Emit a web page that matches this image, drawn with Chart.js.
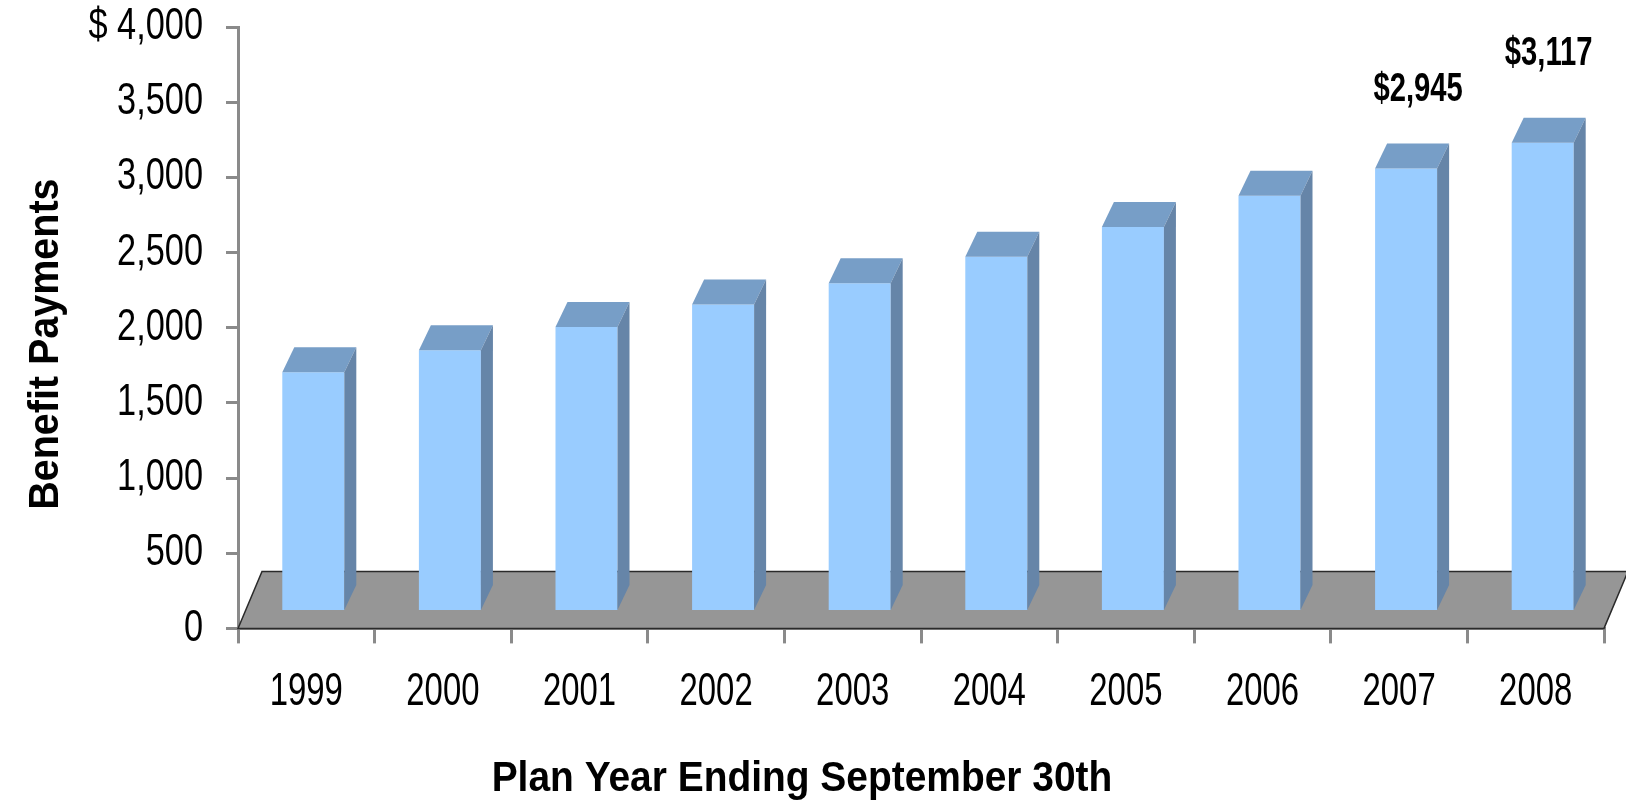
<!DOCTYPE html>
<html>
<head>
<meta charset="utf-8">
<script src="https://cdn.jsdelivr.net/npm/chart.js@4.4.1/dist/chart.umd.min.js"></script>
<style>
html,body{margin:0;padding:0;background:#fff;}
#wrap{width:1626px;height:805px;}
</style>
</head>
<body>
<div id="wrap"><canvas id="myChart" width="1626" height="805"></canvas></div>
<script>
// values
const years = ['1999','2000','2001','2002','2003','2004','2005','2006','2007','2008'];
const payments = [1590, 1737, 1892, 2041, 2182, 2358, 2557, 2764, 2945, 3117];
const valueLabels = {8: '$2,945', 9: '$3,117'};
const yTicks = [0, 500, 1000, 1500, 2000, 2500, 3000, 3500, 4000];

const font = "'Liberation Sans', Arial, sans-serif";

// bar front face sits a bit back on the floor
const shift = {x: 7, y: -17};
const depth = {x: 12, y: -25};
const floorDepth = {x: 24, y: -57};
// where the two value labels sit over the front top of their bars
const labelOffset = {8: {x: 12, y: -79}, 9: {x: 6, y: -89}};

// the original text looks squeezed sideways, keyed by font size
const squeeze = {'46px': 0.715, '44px': 0.78, '43px': 0.905, '42px': 0.94, '40px': 0.73};

const mychart = document.getElementById('myChart').getContext('2d');
const plainFill = mychart.fillText.bind(mychart);
mychart.fillText = function(text, x, y, maxW){
    const m = this.font.match(/(\d+)px/);
    const k = m ? squeeze[m[1] + 'px'] : undefined;
    if(!k){ return maxW === undefined ? plainFill(text, x, y) : plainFill(text, x, y, maxW); }
    this.save();
    this.translate(x, y);
    this.scale(k, 1);
    plainFill(text, 0, 0);
    this.restore();
};

const threeD = {
    id: 'threeD',
    beforeDatasetsDraw(chart){
        const ctx = chart.ctx;
        const a = chart.chartArea;
        const y0 = chart.scales.y.getPixelForValue(0);
        ctx.save();
        ctx.beginPath();
        ctx.moveTo(a.left, y0);
        ctx.lineTo(a.right, y0);
        ctx.lineTo(a.right + floorDepth.x, y0 + floorDepth.y);
        ctx.lineTo(a.left + floorDepth.x, y0 + floorDepth.y);
        ctx.closePath();
        ctx.fillStyle = '#969696';
        ctx.fill();
        ctx.strokeStyle = '#2a2a2a';
        ctx.lineWidth = 1.5;
        ctx.stroke();
        ctx.restore();
    },
    beforeDatasetDraw(chart){
        chart.ctx.save();
        chart.ctx.translate(shift.x, shift.y);
    },
    afterDatasetDraw(chart, args){
        const ctx = chart.ctx;
        args.meta.data.forEach((bar, i) => {
            const p = bar.getProps(['x','y','base','width'], true);
            const l = p.x - p.width/2, r = p.x + p.width/2;
            // top face
            ctx.beginPath();
            ctx.moveTo(l, p.y);
            ctx.lineTo(r, p.y);
            ctx.lineTo(r + depth.x, p.y + depth.y);
            ctx.lineTo(l + depth.x, p.y + depth.y);
            ctx.closePath();
            ctx.fillStyle = '#779ec7';
            ctx.fill();
            // side face
            ctx.beginPath();
            ctx.moveTo(r, p.y);
            ctx.lineTo(r + depth.x, p.y + depth.y);
            ctx.lineTo(r + depth.x, p.base + depth.y);
            ctx.lineTo(r, p.base);
            ctx.closePath();
            ctx.fillStyle = '#6685a8';
            ctx.fill();
            if(valueLabels[i]){
                ctx.fillStyle = '#000';
                ctx.font = "bold 40px " + font;
                ctx.textAlign = 'center';
                ctx.textBaseline = 'middle';
                ctx.fillText(valueLabels[i], p.x + labelOffset[i].x, p.y + labelOffset[i].y);
            }
        });
        ctx.restore();
    }
};

new Chart(mychart, {
    type: 'bar',
    data: {
        labels: years,
        datasets: [{
            label: 'Benefit Payments',
            data: payments,
            backgroundColor: '#99ccff',
            borderWidth: 0,
            barPercentage: 0.454,
            categoryPercentage: 1
        }]
    },
    options: {
        responsive: false,
        animation: false,
        layout: {padding: {top: 27, right: 22, left: 0, bottom: 0}},
        plugins: {
            legend: {display: false},
            tooltip: {enabled: false},
            title: {
                display: true,
                position: 'bottom',
                text: 'Plan Year Ending September 30th',
                color: '#000',
                font: {family: font, size: 43, weight: 'bold'},
                padding: {top: 0, bottom: 0}
            }
        },
        scales: {
            x: {
                afterFit(scale){ scale.height = 125; },
                grid: {display: true, drawOnChartArea: false, offset: true, color: '#8a8a8a', lineWidth: 3, tickLength: 15},
                border: {display: true, color: '#8a8a8a', width: 3},
                ticks: {color: '#000', font: {family: font, size: 46}, padding: 21, maxRotation: 0}
            },
            y: {
                min: 0,
                max: 4000,
                afterFit(scale){
                    scale.width = 238;
                    scale.paddingTop = 0;
                    scale.paddingBottom = 0;
                },
                afterBuildTicks(scale){ scale.ticks = yTicks.map(v => ({value: v})); },
                grid: {display: true, drawOnChartArea: false, color: '#8a8a8a', lineWidth: 3, tickLength: 12},
                border: {display: true, color: '#8a8a8a', width: 3},
                ticks: {
                    color: '#000',
                    font: {family: font, size: 44},
                    padding: 23,
                    callback: v => v === 4000 ? '$ 4,000' : v.toLocaleString('en-US')
                },
                title: {
                    display: true,
                    text: 'Benefit Payments   ',
                    color: '#000',
                    font: {family: font, size: 42, weight: 'bold'},
                    padding: {top: 21, bottom: 0}
                }
            }
        }
    },
    plugins: [threeD]
});
</script>
</body>
</html>
